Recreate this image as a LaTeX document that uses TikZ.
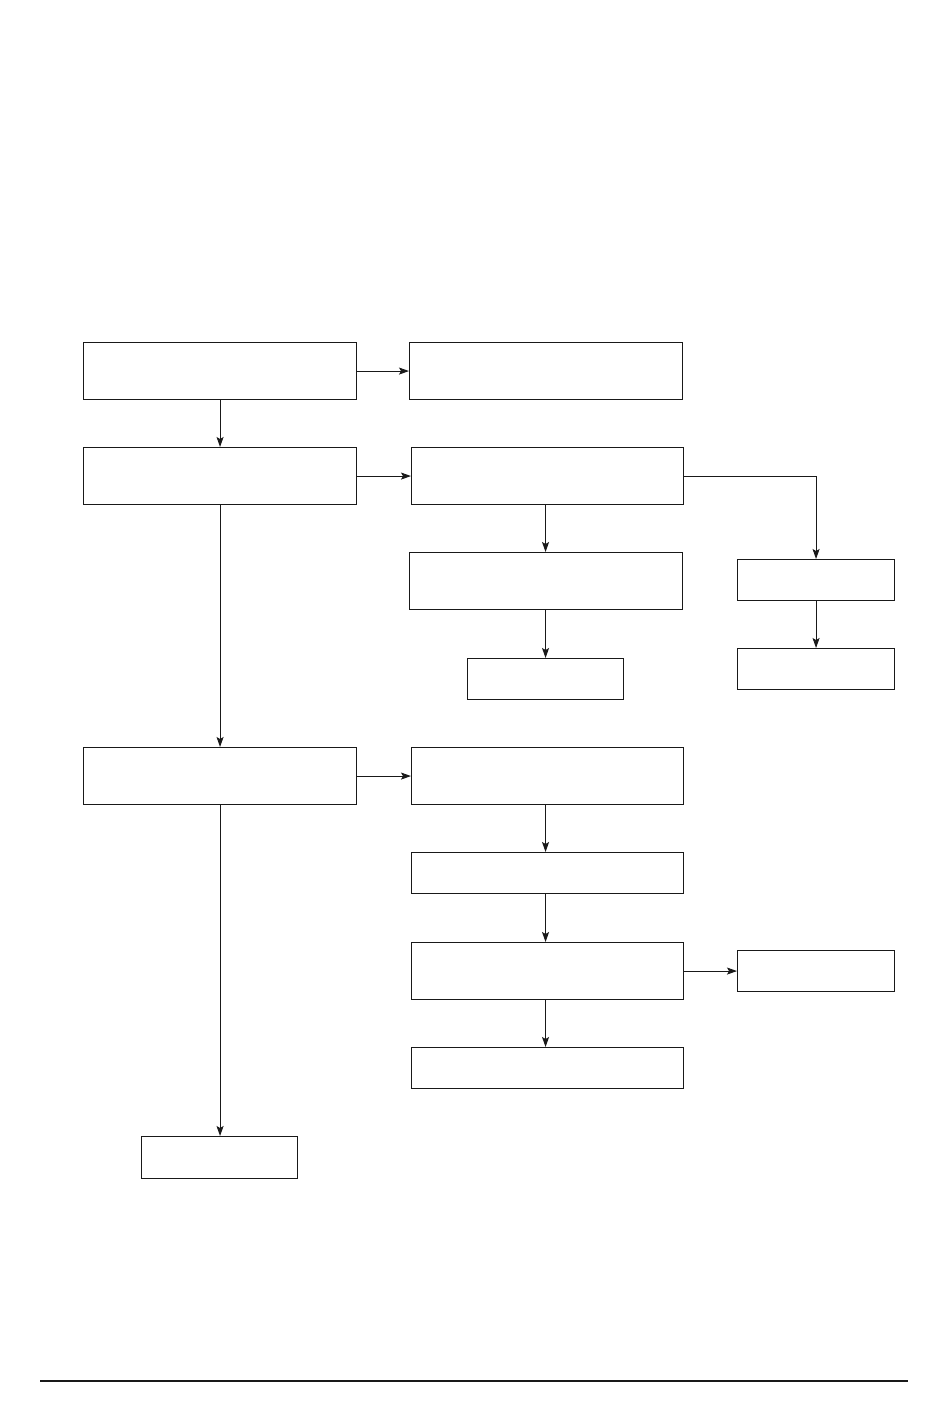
\documentclass[tikz,border=0pt]{standalone}
\usetikzlibrary{arrows.meta}
\begin{document}
\begin{tikzpicture}[x=1pt,y=-1pt,
  box/.style={draw=black!90,line width=1.1pt,rectangle,inner sep=0pt,anchor=north west},
  arr/.style={draw=black!90,line width=1pt,-{Stealth[length=10pt,width=7pt,inset=2pt]}}]
\useasboundingbox (0,0) rectangle (950,1408);
\newcommand{\bx}[5]{\node[box,minimum width=#4-#2,minimum height=#5-#3] (#1) at (#2,#3) {};}
\bx{A}{83}{342}{356}{399}
\bx{B}{409}{342}{682}{399}
\bx{C}{83}{447}{356}{504}
\bx{D}{411}{447}{683}{504}
\bx{E}{409}{552}{682}{609}
\bx{F}{467}{658}{623}{699}
\bx{G}{737}{559}{894}{600}
\bx{H}{737}{648}{894}{689}
\bx{I}{83}{747}{356}{804}
\bx{J}{411}{747}{683}{804}
\bx{K}{411}{852}{683}{893}
\bx{L}{411}{942}{683}{999}
\bx{M}{737}{950}{894}{991}
\bx{N}{411}{1047}{683}{1088}
\bx{O}{141}{1136}{297}{1178}
\draw[arr] (A.east) -- (B.west);
\draw[arr] (A.south) -- (A.south |- C.north);
\draw[arr] (C.east) -- (C.east -| D.west);
\draw[arr] (F.north |- D.south) -- (F.north |- E.north);
\draw[arr] (D.east) -| (G.north);
\draw[arr] (F.north |- E.south) -- (F.north);
\draw[arr] (G.south) -- (H.north);
\draw[arr] (C.south) -- (C.south |- I.north);
\draw[arr] (I.east) -- (I.east -| J.west);
\draw[arr] (F.north |- J.south) -- (F.north |- K.north);
\draw[arr] (F.north |- K.south) -- (F.north |- L.north);
\draw[arr] (L.east) -- (L.east -| M.west);
\draw[arr] (F.north |- L.south) -- (F.north |- N.north);
\draw[arr] (I.south) -- (I.south |- O.north);
\coordinate (r1) at (40,1381);
\coordinate (r2) at (908,1381);
\draw[line width=2pt,black!90] (r1) -- (r2);
\end{tikzpicture}
\end{document}
